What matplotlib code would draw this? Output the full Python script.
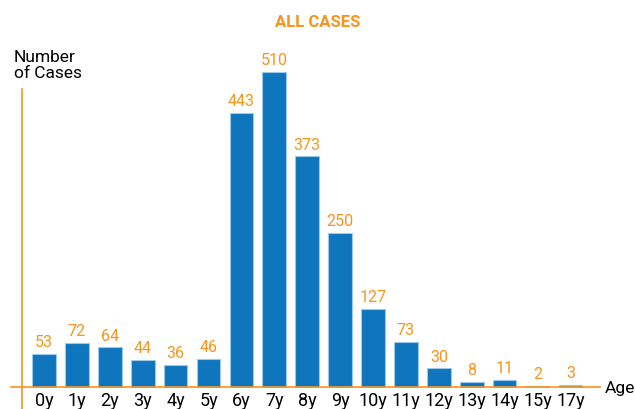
import numpy as np
import matplotlib.pyplot as plt

ages = ['0y', '1y', '2y', '3y', '4y', '5y', '6y', '7y', '8y', '9y',
        '10y', '11y', '12y', '13y', '14y', '15y', '17y']
cases = [53, 72, 64, 44, 36, 46, 443, 510, 373, 250, 127, 73, 30, 8, 11, 2, 3]

blue = '#0f75bc'
orange = '#f7941d'
plt.rcParams['font.family'] = ['Roboto', 'DejaVu Sans']

fig = plt.figure(figsize=(6.35, 4.1), dpi=100)
ax = fig.add_axes([0, 0, 1, 1])
ax.set_xlim(-44 / 32.9, (635 - 44) / 32.9)
ax.set_ylim(-22 / 0.618, 388 / 0.618)
ax.axis('off')

x = np.arange(len(ages))
ax.bar(x, cases, width=0.72, color=blue, edgecolor='#9cc9ea', linewidth=0.8)

for xi, v, lab in zip(x, cases, ages):
    ax.text(xi, v + 8, str(v), ha='center', va='bottom', color=orange, fontsize=11.5)
    ax.text(xi, -7, lab, ha='center', va='top', color='black', fontsize=13)

# axes lines
ax.plot([-1.0, 16.9], [0, 0], color=orange, lw=1.2, clip_on=False)
ax.plot([-0.67, -0.67], [-36, 482], color=orange, lw=1.2, clip_on=False)

fig.text(0.5, 0.945, 'ALL CASES', ha='center', va='center', color=orange,
         fontsize=12, fontweight='bold')
fig.text(0.022, 0.84, 'Number\nof Cases', ha='left', va='center', color='black',
         fontsize=12.5, linespacing=1.1)
fig.text(0.952, 0.052, 'Age', ha='left', va='center', color='black', fontsize=12.5)

fig.savefig('out.png', dpi=100)
